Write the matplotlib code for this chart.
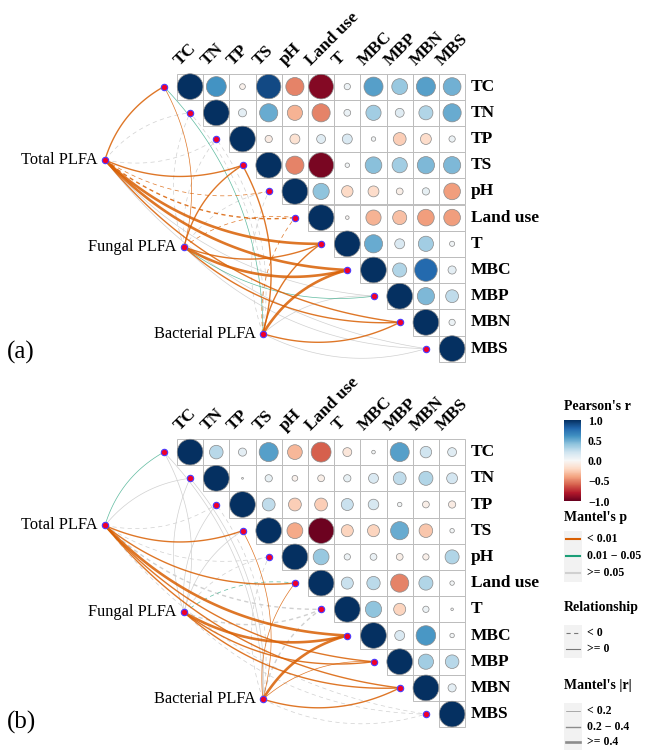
import numpy as np
import matplotlib.pyplot as plt
from matplotlib.patches import Rectangle, Circle
from matplotlib import cm, colors

plt.rcParams['font.family'] = ['Liberation Serif', 'DejaVu Serif']
plt.rcParams['lines.scale_dashes'] = False

variables = ["TC", "TN", "TP", "TS", "pH", "Land use", "T", "MBC", "MBP", "MBN", "MBS"]
groups = ["Total PLFA", "Fungal PLFA", "Bacterial PLFA"]

# Pearson's r, upper triangle: row i holds columns i..10
pearson_a = [
    [1.00, 0.60, -0.05, 0.90, -0.50, -0.92, 0.06, 0.55, 0.38, 0.55, 0.48],
    [1.00, 0.10, 0.50, -0.35, -0.50, 0.07, 0.35, 0.12, 0.30, 0.50],
    [1.00, -0.08, -0.15, 0.12, 0.15, 0.03, -0.25, -0.18, 0.06],
    [1.00, -0.50, -0.95, 0.03, 0.42, 0.35, 0.45, 0.45],
    [1.00, 0.40, -0.20, -0.18, -0.07, 0.08, -0.42],
    [1.00, -0.02, -0.35, -0.30, -0.42, -0.42],
    [1.00, 0.50, 0.15, 0.35, 0.04],
    [1.00, 0.30, 0.78, 0.10],
    [1.00, 0.45, 0.25],
    [1.00, 0.06],
    [1.00],
]
pearson_b = [
    [1.00, 0.28, 0.10, 0.55, -0.33, -0.60, -0.12, 0.02, 0.55, 0.20, 0.12],
    [1.00, 0.005, 0.08, -0.05, -0.07, 0.08, 0.15, 0.25, 0.30, 0.18],
    [1.00, 0.25, -0.25, -0.25, 0.22, 0.17, 0.03, -0.07, -0.08],
    [1.00, -0.38, -0.98, -0.22, -0.22, 0.50, -0.28, 0.03],
    [1.00, 0.38, 0.06, 0.07, -0.07, -0.06, 0.30],
    [1.00, 0.22, 0.27, -0.50, 0.30, 0.03],
    [1.00, 0.40, -0.22, 0.06, 0.01],
    [1.00, 0.15, 0.58, 0.03],
    [1.00, 0.35, 0.28],
    [1.00, 0.10],
    [1.00],
]

# Mantel tests: one list per group (Total, Fungal, Bacterial), values per variable
mantel_r_a = [
    [0.25, -0.10, -0.10, 0.30, -0.18, -0.25, 0.42, 0.48, 0.12, 0.32, 0.10],
    [0.15, -0.05, -0.05, 0.22, -0.05, -0.15, 0.30, 0.45, 0.15, 0.30, 0.08],
    [0.15, -0.05, -0.05, 0.20, -0.08, -0.15, 0.22, 0.45, 0.10, 0.30, 0.10],
]
mantel_p_a = [
    [0.005, 0.30, 0.40, 0.003, 0.008, 0.004, 0.001, 0.001, 0.20, 0.002, 0.30],
    [0.005, 0.50, 0.50, 0.005, 0.30, 0.008, 0.002, 0.001, 0.02, 0.003, 0.20],
    [0.030, 0.50, 0.60, 0.005, 0.20, 0.009, 0.004, 0.001, 0.10, 0.002, 0.20],
]
mantel_r_b = [
    [0.15, 0.10, -0.05, 0.25, -0.05, 0.25, -0.22, 0.45, 0.25, 0.30, -0.05],
    [0.10, 0.10, 0.10, 0.10, -0.05, -0.15, -0.22, 0.45, 0.25, 0.30, -0.05],
    [0.10, 0.10, -0.05, 0.18, -0.05, 0.15, -0.22, 0.45, 0.15, 0.30, -0.05],
]
mantel_p_b = [
    [0.03, 0.20, 0.50, 0.004, 0.40, 0.005, 0.10, 0.001, 0.005, 0.003, 0.50],
    [0.20, 0.30, 0.30, 0.20, 0.50, 0.03, 0.10, 0.001, 0.004, 0.002, 0.40],
    [0.20, 0.30, 0.50, 0.005, 0.40, 0.008, 0.10, 0.001, 0.006, 0.003, 0.40],
]

# layout (cell units, y downward)
group_xy = [(-2.75, 3.30), (0.27, 6.62), (3.28, 9.93)]
cell = 26.2
left_px = 177
W, H = 646, 750

p_colors = ['#D95F02', '#1B9E77', '#D0D0D0']
r_widths = [0.5, 1.0, 1.9]
cmap = plt.get_cmap('RdBu')
norm = colors.Normalize(-1, 1)


def p_class(p):
    return 0 if p < 0.01 else (1 if p < 0.05 else 2)


def r_class(r):
    r = abs(r)
    return 0 if r < 0.2 else (1 if r < 0.4 else 2)


def curve(ax, p0, p1, **kw):
    (x0, y0), (x1, y1) = p0, p1
    dx, dy = x1 - x0, y1 - y0
    side = -1 if (dx > 0 and dy < -0.25 * dx) else 1
    cx = (x0 + x1) / 2 + side * 0.2 * (-dy)
    cy = (y0 + y1) / 2 + side * 0.2 * dx
    t = np.linspace(0, 1, 80)
    xs = (1 - t) ** 2 * x0 + 2 * (1 - t) * t * cx + t ** 2 * x1
    ys = (1 - t) ** 2 * y0 + 2 * (1 - t) * t * cy + t ** 2 * y1
    ax.plot(xs, ys, solid_capstyle='butt', **kw)


def draw_panel(ax, pearson, mantel_r, mantel_p):
    n = len(variables)
    # links (grey first, coloured on top)
    links = []
    for g in range(3):
        for j in range(n):
            links.append((p_class(mantel_p[g][j]), g, j))
    links.sort(key=lambda k: -k[0])
    for pc, g, j in links:
        r = mantel_r[g][j]
        kw = dict(color=p_colors[pc], lw=r_widths[r_class(r)],
                  alpha=0.85 if pc == 0 else (0.7 if pc == 1 else 1.0), zorder=1)
        if r < 0:
            kw['linestyle'] = (0, (3, 2.5))
        curve(ax, group_xy[g], (j - 0.5, j + 0.5), **kw)

    # matrix
    for i, row in enumerate(pearson):
        for k, v in enumerate(row):
            j = i + k
            ax.add_patch(Rectangle((j, i), 1, 1, fill=False, ec='#BDBDBD', lw=0.7, zorder=2))
            rad = 0.49 * np.sqrt(abs(v))
            ax.add_patch(Circle((j + 0.5, i + 0.5), rad, fc=cmap(norm(v)),
                                ec='#8A8A8A', lw=0.5, zorder=3))
    for j, name in enumerate(variables):
        ax.text(j + 0.12, -0.3, name, rotation=45, rotation_mode='anchor',
                ha='left', va='baseline', fontsize=12.5, fontweight='bold')
        ax.text(n + 0.22, j + 0.5, name, ha='left', va='center',
                fontsize=12.5, fontweight='bold')

    # nodes
    vx = [j - 0.5 for j in range(n)]
    vy = [j + 0.5 for j in range(n)]
    gx = [p[0] for p in group_xy]
    gy = [p[1] for p in group_xy]
    ax.plot(vx + gx, vy + gy, 'o', ms=4.6, mfc='#F0002A', mec='#4B3BFF',
            mew=0.8, zorder=4, ls='none')
    for g, name in enumerate(groups):
        ax.text(gx[g] - 0.28, gy[g], name, ha='right', va='center', fontsize=11.8)


fig = plt.figure(figsize=(W / 100, H / 100), dpi=100)

panels = [(73.5, 0, 375, pearson_a, mantel_r_a, mantel_p_a),
          (439, 375, 750, pearson_b, mantel_r_b, mantel_p_b)]
for top, y0, y1, pr, mr, mp in panels:
    ax = fig.add_axes([0, 1 - y1 / H, 1, (y1 - y0) / H])
    ax.set_xlim(-left_px / cell, (W - left_px) / cell)
    ax.set_ylim((y1 - top) / cell, (y0 - top) / cell)
    ax.axis('off')
    draw_panel(ax, pr, mr, mp)

# legend overlay in pixel coordinates
lg = fig.add_axes([0, 0, 1, 1])
lg.set_xlim(0, W)
lg.set_ylim(H, 0)
lg.axis('off')

lg.text(7, 352, "(a)", fontsize=18, va='center', ha='left')
lg.text(7, 722, "(b)", fontsize=18, va='center', ha='left')

lx, kx0, kx1, tx = 564, 566, 580, 587
lg.text(lx, 406, "Pearson's r", fontsize=10, fontweight='bold', va='center')

cax = fig.add_axes([lx / W, 1 - 501 / H, 17 / W, 81 / H])
sm = cm.ScalarMappable(norm=norm, cmap=cmap)
cb = fig.colorbar(sm, cax=cax, ticks=[1.0, 0.5, 0.0, -0.5, -1.0])
cb.outline.set_visible(False)
cb.ax.tick_params(length=0, pad=5)
cb.ax.set_yticklabels(["1.0", "0.5", "0.0", "\u22120.5", "\u22121.0"],
                      fontsize=8.5, fontweight='bold')


def legend_group(title, ty, ys, labels, styles):
    lg.text(lx, ty, title, fontsize=10, fontweight='bold', va='center')
    lg.add_patch(Rectangle((lx, ys[0] - 8.5), 18, ys[-1] - ys[0] + 17,
                           fc='#F2F2F2', ec='none'))
    for y, lab, st in zip(ys, labels, styles):
        lg.plot([kx0, kx1], [y, y], **st)
        lg.text(tx, y, lab, fontsize=8.5, fontweight='bold', va='center')


legend_group("Mantel's p", 517, [539, 556, 573],
             ["< 0.01", "0.01 \u2212 0.05", ">= 0.05"],
             [dict(color=c, lw=1.5) for c in p_colors])
legend_group("Relationship", 608, [633, 649], ["< 0", ">= 0"],
             [dict(color='#777777', lw=0.8, ls=(0, (3, 2.5))),
              dict(color='#777777', lw=0.8)])
legend_group("Mantel's |r|", 686, [711, 727, 742],
             ["< 0.2", "0.2 \u2212 0.4", ">= 0.4"],
             [dict(color='#8C8C8C', lw=w) for w in r_widths])

fig.savefig("out.png", dpi=100)
